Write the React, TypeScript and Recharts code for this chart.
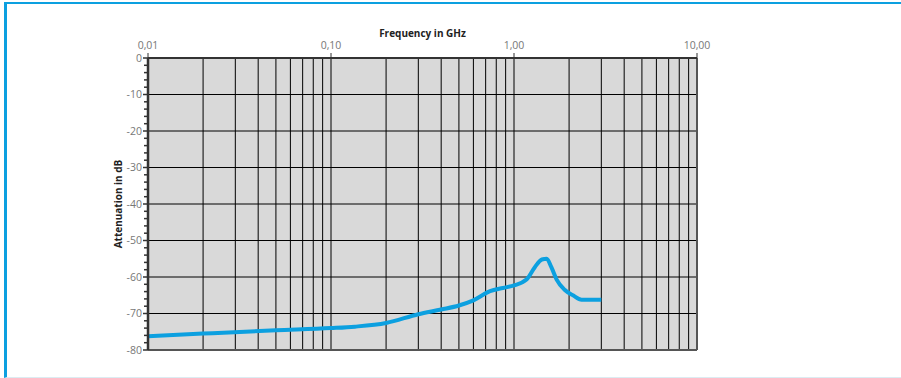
import React from "react";
import { CartesianGrid, Line, LineChart, ReferenceLine, XAxis, YAxis } from "recharts";

// Attenuation curve (frequency in GHz, attenuation in dB)
const FREQ = [0.01, 0.02, 0.05, 0.1, 0.135, 0.2, 0.3, 0.4, 0.5, 0.6, 0.74, 0.87, 1.0, 1.17, 1.3, 1.42, 1.51, 1.6, 1.71, 1.89, 2.1, 2.34, 3.0];
const ATT = [-76.2, -75.5, -74.6, -74, -73.6, -72.6, -70.2, -68.9, -67.8, -66.4, -63.9, -63, -62.3, -60.7, -57.3, -55.2, -55.0, -57.3, -60.7, -63.5, -65, -66.2, -66.2];

const DECADES = [0.01, 0.1, 1, 10];
const MULTS = [1, 2, 3, 4, 5, 6, 7, 8, 9];
const Y_MAJOR = [0, -10, -20, -30, -40, -50, -60, -70, -80];
const Y_STEP = 2;

const BLUE = "#0ca0e0";
const AXIS_TEXT = "#777";
const DARK = "#333";
const FONT = "'Open Sans', 'DejaVu Sans', sans-serif";

const data = FREQ.map((f, i) => ({ f, att: ATT[i] }));

// every 1..9 multiple of each decade -> vertical grid lines
const xTicks = DECADES.flatMap((d) => (d === 10 ? [d] : MULTS.map((m) => +(d * m).toPrecision(3))));
const yTicks: number[] = [];
for (let v = 0; v >= -80; v -= Y_STEP) yTicks.push(v);

const fmtX = (v: number) => v.toFixed(2).replace(".", ",");

function XTick({ x, y, payload }: any) {
  const v = payload.value;
  if (!DECADES.some((d) => Math.abs(d - v) < 1e-9)) return null;
  return (
    <g>
      <text x={x} y={y} textAnchor="middle" fontSize={10.5} fill={AXIS_TEXT} fontFamily={FONT}>
        {fmtX(v)}
      </text>
      <line x1={x} x2={x} y1={y + 4} y2={y + 9} stroke={DARK} strokeWidth={1} />
    </g>
  );
}

function YTick({ x, y, payload }: any) {
  const v = payload.value;
  const major = v % 10 === 0;
  const right = x + 1 + 5;
  return (
    <g>
      {major && (
        <text x={x} y={y} dy="0.35em" textAnchor="end" fontSize={10.5} fill={AXIS_TEXT} fontFamily={FONT}>
          {v}
        </text>
      )}
      <line x1={right - (major ? 5 : 4)} x2={right} y1={y} y2={y} stroke={DARK} strokeWidth={1.5} />
    </g>
  );
}

export default function App() {
  return (
    <div style={{ position: "absolute", left: 0, top: 0, width: 901, height: 378, background: "#fff", overflow: "hidden" }}>
      <div
        style={{
          position: "absolute",
          left: 4,
          top: 2,
          right: -4,
          bottom: 0,
          borderTop: `2.5px solid ${BLUE}`,
          borderLeft: `3px solid ${BLUE}`,
          borderBottom: "1px solid #dcecf2",
        }}
      />
      <div style={{ position: "absolute", left: 0, top: 0 }}>
        <LineChart width={901} height={378} data={data} margin={{ top: 38, right: 204, bottom: 28, left: 108 }}>
          <CartesianGrid fill="#d9d9d9" stroke="#000" strokeWidth={1} horizontal={false} />
          <XAxis
            dataKey="f"
            type="number"
            scale="log"
            domain={[0.01, 10]}
            allowDataOverflow
            orientation="top"
            ticks={xTicks}
            interval={0}
            height={20}
            tickSize={5}
            tickMargin={4}
            tickLine={false}
            tick={<XTick />}
            axisLine={{ stroke: DARK, strokeWidth: 2 }}
            label={(props: any) => {
              const vb = props.viewBox;
              return (
                <text
                  x={vb.x + vb.width / 2}
                  y={vb.y - 5}
                  dy="0.35em"
                  textAnchor="middle"
                  fontSize={10}
                  fontWeight="bold"
                  fill="#222"
                  fontFamily={FONT}
                >
                  Frequency in GHz
                </text>
              );
            }}
          />
          <YAxis
            type="number"
            domain={[-80, 0]}
            ticks={yTicks}
            interval={0}
            width={40}
            tickSize={5}
            tickMargin={1}
            tickLine={false}
            tick={<YTick />}
            axisLine={{ stroke: DARK, strokeWidth: 2.5 }}
            label={(props: any) => {
              const vb = props.viewBox;
              const cx = vb.x + 10;
              const cy = vb.y + vb.height / 2;
              return (
                <text
                  x={cx}
                  y={cy}
                  dy="0.35em"
                  textAnchor="middle"
                  transform={`rotate(-90, ${cx}, ${cy})`}
                  fontSize={10}
                  fontWeight="bold"
                  fill="#222"
                  fontFamily={FONT}
                >
                  Attenuation in dB
                </text>
              );
            }}
          />
          {Y_MAJOR.slice(1, -1).map((v) => (
            <ReferenceLine key={v} y={v} stroke="#000" strokeWidth={1} />
          ))}
          <ReferenceLine y={-80} stroke="#555" strokeWidth={2} />
          <ReferenceLine x={10} stroke="#555" strokeWidth={2} />
          <Line
            type="monotone"
            dataKey="att"
            stroke={BLUE}
            strokeWidth={4}
            dot={false}
            activeDot={false}
            isAnimationActive={false}
          />
        </LineChart>
      </div>
    </div>
  );
}
